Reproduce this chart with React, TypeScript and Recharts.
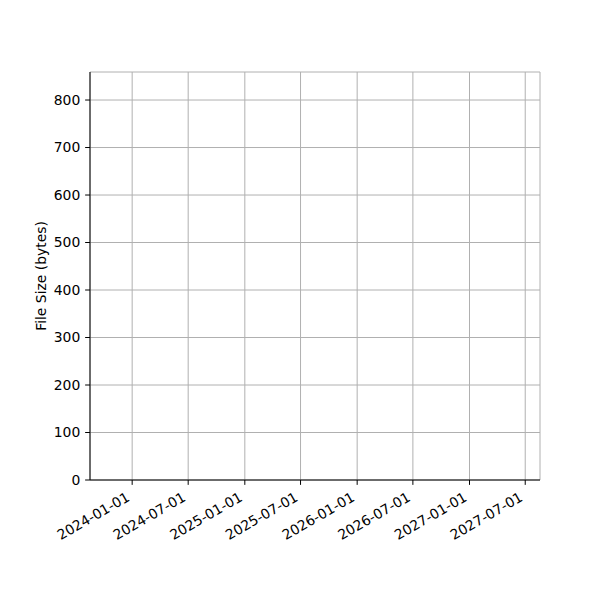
import { LineChart, Line, XAxis, YAxis, CartesianGrid } from 'recharts';

// x tick dates shown on the axis
const xTickDates = [
  '2024-01-01', '2024-07-01', '2025-01-01', '2025-07-01',
  '2026-01-01', '2026-07-01', '2027-01-01', '2027-07-01',
];
const xTicks = xTickDates.map((d) => Date.parse(d + 'T00:00:00Z'));

// axis limits
const xMin = Date.parse('2023-08-17T00:00:00Z');
const xMax = Date.parse('2027-08-18T00:00:00Z');
const yMin = 0;
const yMax = 859;
const yTicks = [0, 100, 200, 300, 400, 500, 600, 700, 800];

// the plotted series holds no points
const dates: number[] = [];
const fileSizes: number[] = [];

const chartData = dates.map((t, i) => ({ t, size: fileSizes[i] }));

const FONT = '"DejaVu Sans", sans-serif';
const FS = 13.9;
const TICK = 4.86;

function fmtDate(ts: number) {
  return new Date(ts).toISOString().slice(0, 10);
}

function DateTick(props: any) {
  const { x, payload } = props;
  const ax = x - 1.5;
  const ay = 500;
  return (
    <text
      x={ax}
      y={ay}
      transform={`rotate(-30, ${ax}, ${ay})`}
      textAnchor="end"
      fontSize={FS}
      fontFamily={FONT}
      fill="#000"
    >
      {fmtDate(payload.value)}
    </text>
  );
}

export default function App() {
  return (
    <div style={{ position: 'absolute', left: 0, top: 0, width: 600, height: 600, background: '#fff' }}>
      <LineChart
        width={600}
        height={600}
        data={chartData}
        margin={{ top: 72, right: 60, bottom: 60, left: 40 }}
      >
        <CartesianGrid stroke="#b0b0b0" strokeWidth={1} />
        <XAxis
          dataKey="t"
          type="number"
          scale="time"
          domain={[xMin, xMax]}
          ticks={xTicks}
          allowDataOverflow
          height={60}
          stroke="#000"
          strokeWidth={1}
          tickSize={TICK}
          tick={<DateTick />}
          interval={0}
        />
        <XAxis
          xAxisId="top"
          orientation="top"
          type="number"
          domain={[xMin, xMax]}
          height={0}
          tick={false}
          tickLine={false}
          stroke="#000"
          strokeWidth={1}
        />
        <YAxis
          type="number"
          domain={[yMin, yMax]}
          ticks={yTicks}
          allowDataOverflow
          width={50}
          stroke="#000"
          strokeWidth={1}
          tickSize={TICK}
          tickMargin={TICK}
          interval={0}
          tick={{ fill: '#000', fontSize: FS, fontFamily: FONT }}
          label={{
            content: () => (
              <text
                x={46}
                y={276}
                transform="rotate(-90, 46, 276)"
                textAnchor="middle"
                fontSize={FS}
                fontFamily={FONT}
                fill="#000"
              >
                File Size (bytes)
              </text>
            ),
          }}
        />
        <YAxis
          yAxisId="right"
          orientation="right"
          type="number"
          domain={[yMin, yMax]}
          width={0}
          tick={false}
          tickLine={false}
          stroke="#000"
          strokeWidth={1}
        />
        <Line dataKey="size" stroke="#1f77b4" dot={false} isAnimationActive={false} />
      </LineChart>
    </div>
  );
}
